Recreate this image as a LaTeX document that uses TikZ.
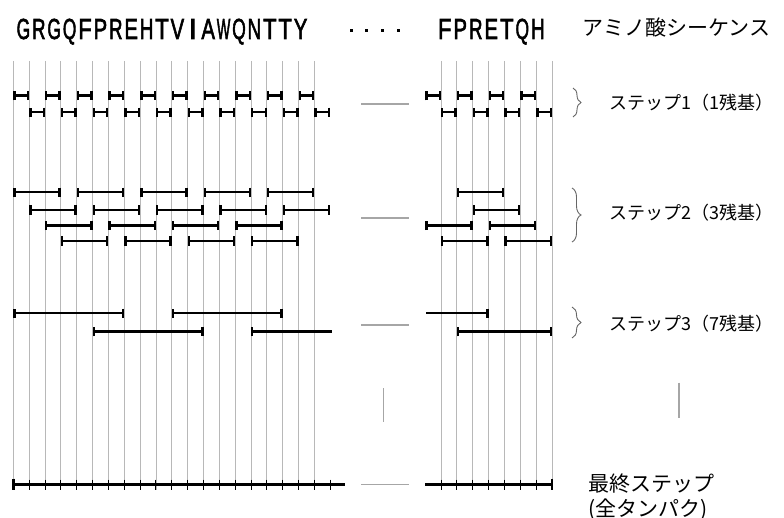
\documentclass[tikz,border=0pt]{standalone}
\usepackage{fontspec}
\setmainfont{Liberation Sans}
\newfontfamily\jp{Noto Sans CJK JP}
\newfontfamily\seqfont[FakeBold=2.5]{Liberation Sans}
\usetikzlibrary{arrows.meta,decorations.pathreplacing}
\newcommand\resbox[2]{\resizebox{#2pt}{\height}{#1}}

\begin{document}
\begin{tikzpicture}[x=1pt,y=-1pt,
  declare function={xl(\k)=13.3+15.85*\k; xr(\k)=441+15.87*\k;},
  grid/.style={draw=black!28, line width=0.9pt},
  endbar/.tip={Bar[width=9.5pt, line width=2.4pt]},
  seg/.style={line width=2.4pt, endbar-endbar},
  segA/.style={line width=2.4pt, endbar-},
  segB/.style={line width=2.4pt, -endbar},
  full/.style={line width=2.4pt},
  tick/.style={line width=1pt},
  gap/.style={draw=black!35, line width=1.1pt},
  brc/.style={draw=black!60, line width=0.9pt, decorate, decoration={brace, amplitude=#1}},
  lab/.style={anchor=west, inner sep=0pt, font=\jp\fontsize{18}{21}\selectfont},
  big/.style={anchor=west, inner sep=0pt, font=\jp\fontsize{21}{25}\selectfont},
  res/.style={anchor=base, inner sep=0pt, font=\seqfont\fontsize{29}{32}\selectfont}
]
\useasboundingbox (0,0) rectangle (784,518);

% residue grid
\foreach \k in {0,...,19} \draw[grid] ({xl(\k)},61) -- ({xl(\k)},490);
\foreach \k in {0,...,7} \draw[grid] ({xr(\k)},61) -- ({xr(\k)},490);

% amino acid sequence
\foreach \c/\w [count=\i from 0] in {G/13.5,R/13.5,G/13.5,Q/13.5,F/13.5,P/13.5,R/13.5,E/13.5,H/13.5,T/13.5,V/13.5,I/8,A/13.5,W/13.5,Q/13.5,N/13.5,T/13.5,T/13.5,Y/13.5}
  \node[res] (a\i) at ({23.4+15.4*\i},39) {\resbox{\c}{\w}};
\foreach \c [count=\i from 0] in {F,P,R,E,T,Q,H}
  \node[res] (b\i) at ({444.8+15.5*\i},39) {\resbox{\c}{13.5}};
\foreach \x in {351,366.7,382.3,398.3} \fill (\x-1.5,29.2) rectangle (\x+1.5,32.2);
\node[big] (seq) at (582.7,28) {アミノ酸シーケンス};

% step 1: single residues
\foreach \k in {0,2,...,18} \draw[seg] ({xl(\k)},95.7) -- ({xl(\k+1)},95.7);
\foreach \k in {1,3,...,19} \draw[seg] ({xl(\k)},112.3) -- ({xl(\k+1)},112.3);
\foreach \k in {-1,1,3,5} \draw[seg] ({xr(\k)},95.7) -- ({xr(\k+1)},95.7);
\foreach \k in {0,2,4,6} \draw[seg] ({xr(\k)},112.3) -- ({xr(\k+1)},112.3);

% step 2: three residues
\foreach \k in {0,4,...,16} \draw[seg] ({xl(\k)},192.3) -- ({xl(\k+3)},192.3);
\foreach \k in {1,5,...,17} \draw[seg] ({xl(\k)},210) -- ({xl(\k+3)},210);
\foreach \k in {2,6,10,14} \draw[seg] ({xl(\k)},225.5) -- ({xl(\k+3)},225.5);
\foreach \k in {3,7,11,15} \draw[seg] ({xl(\k)},241) -- ({xl(\k+3)},241);
\draw[seg] ({xr(1)},192.3) -- ({xr(4)},192.3);
\draw[seg] ({xr(2)},210) -- ({xr(5)},210);
\draw[seg] ({xr(-1)},225.5) -- ({xr(2)},225.5);
\draw[seg] ({xr(3)},225.5) -- ({xr(6)},225.5);
\draw[seg] ({xr(0)},241) -- ({xr(3)},241);
\draw[seg] ({xr(4)},241) -- ({xr(7)},241);

% step 3: seven residues
\draw[seg] ({xl(0)},313.3) -- ({xl(7)},313.3);
\draw[seg] ({xl(10)},313.3) -- ({xl(17)},313.3);
\draw[seg] ({xl(5)},331.7) -- ({xl(12)},331.7);
\draw[segA] ({xl(15)},331.7) -- (331.5,331.7);
\draw[segB] (426,313.3) -- ({xr(3)},313.3);
\draw[seg] ({xr(1)},331.7) -- ({xr(7)},331.7);

% final step: whole protein
\draw[full] ({xl(0)},484.3) -- (345,484.3);
\draw[line width=2.8pt] ({xl(0)},478.5) -- ({xl(0)},490);
\foreach \k in {1,...,20} \draw[tick] ({xl(\k)},479.5) -- ({xl(\k)},490);
\draw[full] (425,484.3) -- ({xr(7)},484.3);
\draw[line width=2.8pt] ({xr(7)},478.5) -- ({xr(7)},490);
\foreach \k in {0,...,6} \draw[tick] ({xr(\k)},479.5) -- ({xr(\k)},490);

% omitted middle part
\foreach \y in {104,218,325,484.3} \draw[gap] (361,\y) -- (409,\y);
\draw[gap] (383.3,388) -- (383.3,421.7);
\draw[gap] (679,382.7) -- (679,418.3);

% braces and step labels
\draw[brc=8pt] (573,88) -- (573,117);
\draw[brc=9pt] (572,188) -- (572,242);
\draw[brc=9pt] (572,307) -- (572,338);
\node[lab] (s1) at (609,103) {ステップ1（1残基）};
\node[lab] (s2) at (609,213) {ステップ2（3残基）};
\node[lab] (s3) at (609,324) {ステップ3（7残基）};
\node[big] (fin) at (588,484) {最終ステップ};
\node[big] (fin2) at (588,510) {(全タンパク)};
\end{tikzpicture}
\end{document}
